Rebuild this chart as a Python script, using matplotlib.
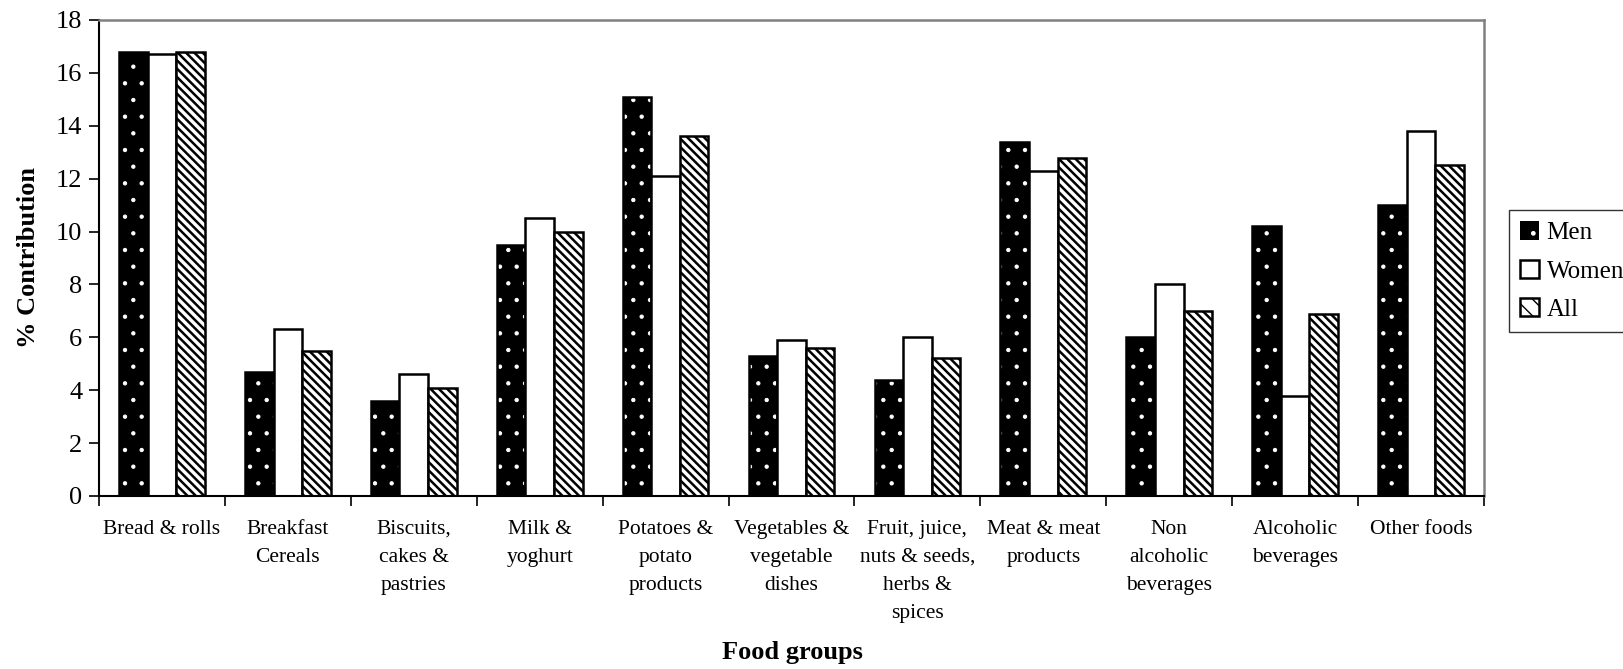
import numpy as np
import matplotlib.pyplot as plt
from matplotlib.patches import Patch
import matplotlib as mpl

plt.rcParams['font.family'] = ['Liberation Serif', 'DejaVu Serif']

categories = ['Bread & rolls', 'Breakfast\nCereals', 'Biscuits,\ncakes &\npastries',
              'Milk &\nyoghurt', 'Potatoes &\npotato\nproducts', 'Vegetables &\nvegetable\ndishes',
              'Fruit, juice,\nnuts & seeds,\nherbs &\nspices', 'Meat & meat\nproducts',
              'Non\nalcoholic\nbeverages', 'Alcoholic\nbeverages', 'Other foods']
men = [16.8, 4.7, 3.6, 9.5, 15.1, 5.3, 4.4, 13.4, 6.0, 10.2, 11.0]
women = [16.7, 6.3, 4.6, 10.5, 12.1, 5.9, 6.0, 12.3, 8.0, 3.8, 13.8]
all_ = [16.8, 5.5, 4.1, 10.0, 13.6, 5.6, 5.2, 12.8, 7.0, 6.9, 12.5]

W, H = 1624, 669
fig = plt.figure(figsize=(W/100, H/100), dpi=100)
ax = fig.add_axes([99/W, 1 - 496/H, (1484-99)/W, (496-20)/H])

x = np.arange(len(categories))
w = 0.227
# men: black with small white dots
with mpl.rc_context({'hatch.linewidth': 0.7}):
    ax.bar(x - w, men, w, color='black', edgecolor='white', hatch='.', linewidth=0)
    men_h = Patch(facecolor='black', edgecolor='white', hatch='.', linewidth=0)
ax.bar(x - w, men, w, fill=False, edgecolor='black', linewidth=1.8)
ax.bar(x, women, w, color='white', edgecolor='black', linewidth=1.8)
with mpl.rc_context({'hatch.linewidth': 1.8}):
    ax.bar(x + w, all_, w, color='white', edgecolor='black', hatch='\\\\\\\\', linewidth=1.8)
    all_h = Patch(facecolor='white', edgecolor='black', hatch='\\\\', linewidth=1.8)

ax.set_xlim(-0.5, len(categories) - 0.5)
ax.set_ylim(0, 18)
ax.set_yticks(range(0, 19, 2))
ax.tick_params(axis='y', labelsize=19, length=7, width=1.2, direction='out', pad=5)
ax.set_xticks(x)
ax.set_xticklabels(categories, fontsize=15.5, linespacing=1.66, va='top')
ax.tick_params(axis='x', length=0, pad=17)
ax.set_xticks(np.arange(-0.5, len(categories)), minor=True)
ax.tick_params(axis='x', which='minor', length=7, width=1.2)

for s in ['top', 'right']:
    ax.spines[s].set_color('#808080')
    ax.spines[s].set_linewidth(1.8)
for s in ['left', 'bottom']:
    ax.spines[s].set_linewidth(1.5)

fig.text(792/W, 1 - 652/H, 'Food groups', fontsize=19, fontweight='bold', ha='center', va='center')
fig.text(29/W, 1 - 258/H, '% Contribution', fontsize=19, fontweight='bold', rotation=90,
         ha='center', va='center')

handles = [men_h,
           Patch(facecolor='white', edgecolor='black', linewidth=1.8),
           all_h]
leg = fig.legend(handles, ['Men', 'Women', 'All'], loc='upper left',
                 bbox_to_anchor=(1509/W, 1 - 210/H), fontsize=18,
                 frameon=True, fancybox=False, edgecolor='black',
                 handlelength=0.75, handleheight=0.75, handletextpad=0.3,
                 borderaxespad=0, borderpad=0.45, labelspacing=0.62)
leg.get_frame().set_linewidth(1.0)

fig.savefig('out.png', dpi=100)
